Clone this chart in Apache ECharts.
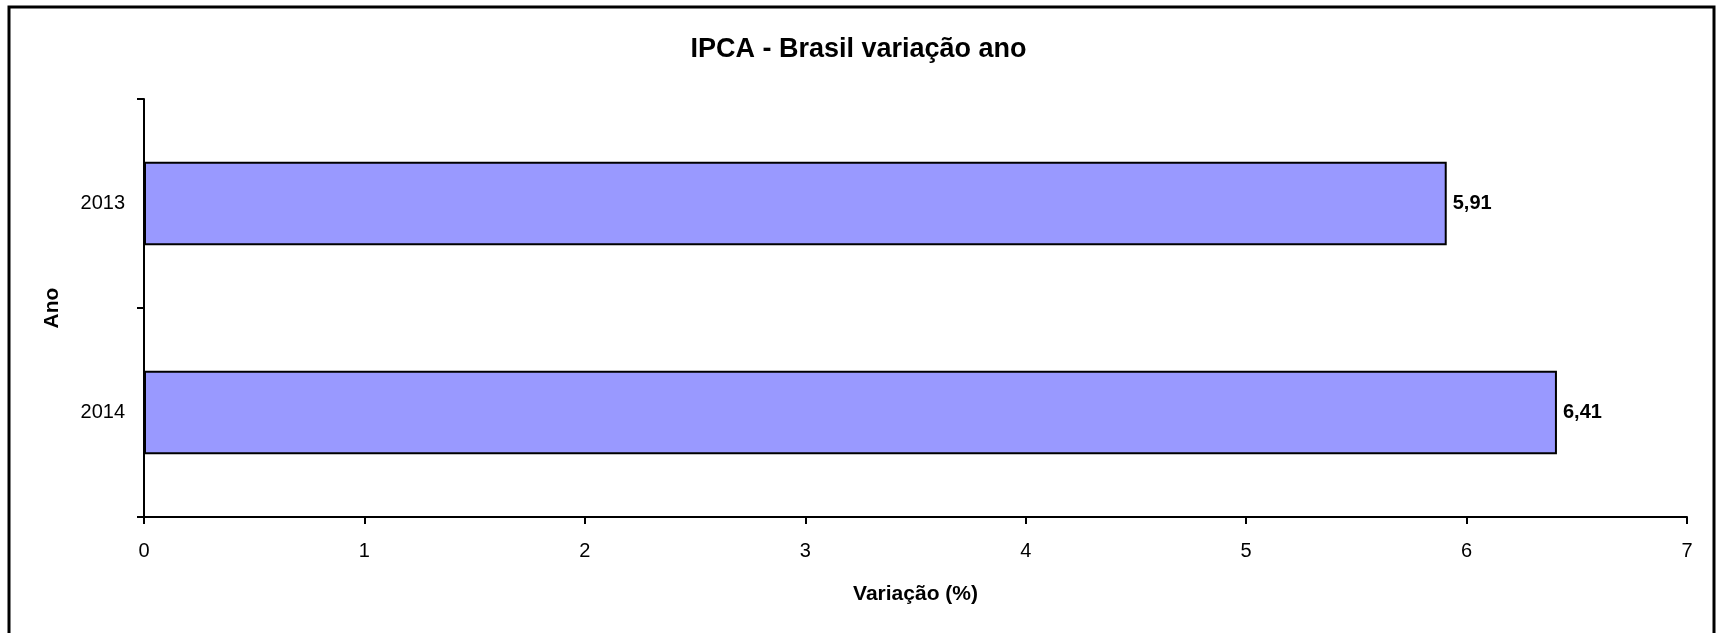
<!DOCTYPE html>
<html>
<head>
<meta charset="utf-8">
<script src="https://cdn.jsdelivr.net/npm/echarts@6/dist/echarts.min.js"></script>
<style>
  html, body { margin: 0; padding: 0; background: #fff; }
  #chart { width: 1717px; height: 633px; }
</style>
</head>
<body>
<div id="chart"></div>
<script>
// dados
const anos = ['2013', '2014'];
const variacao = [5.91, 6.41];
const eixoMin = 0;
const eixoMax = 7;
const eixoPasso = 1;

const fonte = '"Liberation Sans", Arial, sans-serif';

const chart = echarts.init(document.getElementById('chart'));

const option = {
  backgroundColor: '#fff',
  animation: false,
  title: {
    text: 'IPCA - Brasil variação ano',
    left: 'center',
    top: 31,
    textStyle: {
      fontFamily: fonte,
      fontSize: 27,
      fontWeight: 'bold',
      color: '#000',
    },
  },
  grid: {
    left: 144,
    right: 30,
    top: 99,
    bottom: 116,
  },
  graphic: [
    {
      // moldura do gráfico
      type: 'rect',
      shape: { x: 9, y: 7, width: 1705, height: 700 },
      style: { fill: null, stroke: '#000', lineWidth: 3 },
      silent: true,
    },
  ],
  xAxis: {
    type: 'value',
    min: eixoMin,
    max: eixoMax,
    interval: eixoPasso,
    name: 'Variação (%)',
    nameLocation: 'middle',
    nameGap: 67,
    nameTextStyle: {
      fontFamily: fonte,
      fontSize: 21,
      fontWeight: 'bold',
      color: '#000',
    },
    axisLine: { show: true, lineStyle: { color: '#000', width: 2 } },
    axisTick: { show: true, length: 7, lineStyle: { color: '#000', width: 2 } },
    axisLabel: {
      fontFamily: fonte,
      fontSize: 20,
      color: '#000',
      margin: 24,
    },
    splitLine: { show: false },
  },
  yAxis: {
    type: 'category',
    data: anos,
    inverse: true,
    name: 'Ano',
    nameLocation: 'middle',
    nameGap: 81,
    nameTextStyle: {
      fontFamily: fonte,
      fontSize: 21,
      fontWeight: 'bold',
      color: '#000',
    },
    axisLine: { show: true, lineStyle: { color: '#000', width: 2 } },
    axisTick: { show: true, length: 7, lineStyle: { color: '#000', width: 2 } },
    axisLabel: {
      fontFamily: fonte,
      fontSize: 20,
      color: '#000',
      margin: 19,
    },
  },
  series: [
    {
      type: 'bar',
      data: variacao,
      barCategoryGap: '60%',
      itemStyle: {
        color: '#9999FF',
        borderColor: '#000',
        borderWidth: 2,
      },
      label: {
        show: true,
        position: 'right',
        distance: 6,
        fontFamily: fonte,
        fontSize: 20,
        fontWeight: 'bold',
        color: '#000',
        formatter: (p) => p.value.toFixed(2).replace('.', ','),
      },
    },
  ],
};

chart.setOption(option);
</script>
</body>
</html>
